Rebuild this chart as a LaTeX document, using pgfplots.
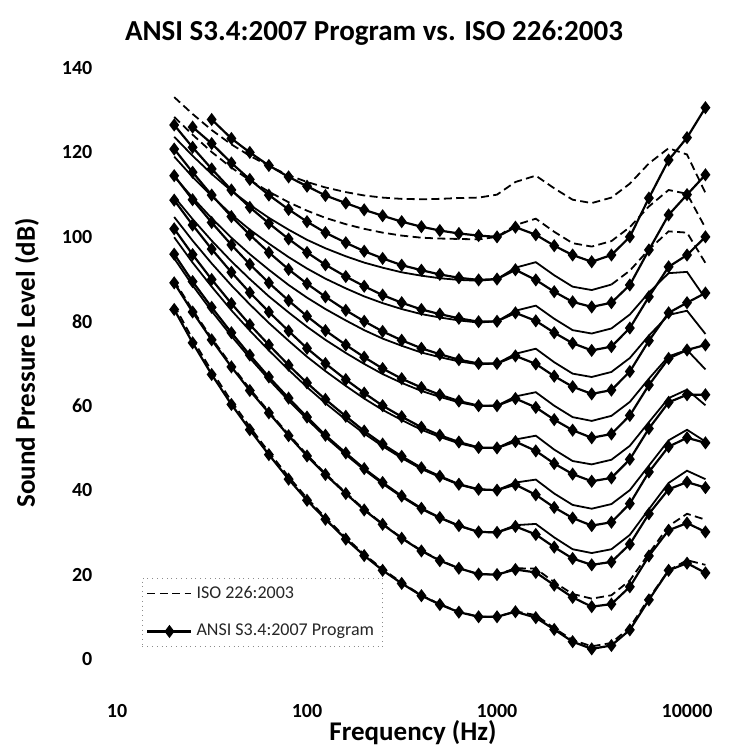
\documentclass[border=0pt]{standalone}
\usepackage{fontspec}
\setmainfont{Carlito}
\usepackage{pgfplots}
\usepackage{pgfplotstable}
\pgfplotsset{compat=1.18}

% ISO 226:2003 equal-loudness contours, 10 to 110 phon (dB SPL)
\pgfplotstableread{
f     i10  i20  i30  i40  i50   i60   i70   i80   i90   i100  i110
20    83.8 89.6 94.9 99.9 104.7 109.5 114.3 119.0 123.7 128.4 133.1
25    75.8 82.7 88.5 93.9 99.1  104.2 109.3 114.2 119.2 124.2 129.1
31.5  68.2 76.0 82.4 88.2 93.7  99.1  104.4 109.7 114.9 120.1 125.3
40    61.1 69.6 76.5 82.6 88.5  94.2  99.8  105.3 110.9 116.4 121.9
50    55.0 64.0 71.3 77.8 84.0  90.0  95.9  101.7 107.6 113.4 119.2
63    49.0 58.6 66.2 73.1 79.6  85.9  92.2  98.4  104.5 110.7 116.8
80    43.2 53.2 61.2 68.5 75.4  82.1  88.6  95.2  101.7 108.2 114.6
100   38.1 48.4 56.8 64.4 71.6  78.7  85.6  92.5  99.3  106.2 113.0
125   33.5 43.9 52.6 60.6 68.2  75.6  82.9  90.1  97.3  104.5 111.7
160   28.8 39.4 48.4 56.7 64.7  72.5  80.2  87.8  95.4  103.0 110.6
200   24.8 35.5 44.8 53.4 61.7  69.9  77.9  85.9  93.9  101.9 109.8
250   21.3 32.0 41.5 50.4 59.0  67.5  75.9  84.3  92.7  101.0 109.3
315   18.1 28.7 38.4 47.6 56.6  65.4  74.2  82.9  91.6  100.3 109.0
400   15.1 25.7 35.5 45.0 54.3  63.5  72.6  81.7  90.8  99.8  108.9
500   13.0 23.4 33.4 43.1 52.6  62.1  71.5  80.9  90.2  99.6  109.0
630   11.2 21.5 31.5 41.3 51.1  60.8  70.5  80.2  89.8  99.5  109.2
800   10.0 20.1 30.1 40.1 50.0  59.9  69.8  79.7  89.6  99.4  109.3
1000  10.0 20.0 30.0 40.0 50.0  60.0  70.0  80.0  90.0  100.0 110.0
1250  11.3 21.5 31.7 41.8 52.0  62.2  72.3  82.5  92.7  102.8 113.0
1600  10.4 21.4 32.0 42.5 52.9  63.2  73.5  83.7  94.0  104.3 114.5
2000  7.3  18.2 28.8 39.2 49.6  60.0  70.3  80.6  90.9  101.2 111.5
2500  4.5  15.4 26.0 36.5 46.9  57.3  67.6  77.9  88.2  98.5  108.8
3150  3.0  14.3 25.1 35.6 46.1  56.4  66.8  77.1  87.4  97.7  108.0
4000  3.8  15.1 26.0 36.7 47.2  57.6  68.0  78.3  88.7  99.0  109.3
5000  7.5  18.6 29.4 40.0 50.5  60.9  71.3  81.6  92.0  102.3 112.6
6300  14.4 25.0 35.5 45.8 56.1  66.4  76.6  86.8  97.0  107.2 117.4
8000  21.0 31.5 41.7 51.8 61.8  71.7  81.5  91.4  101.3 111.1 121.0
10000 23.4 34.4 44.6 54.3 63.8  73.2  82.5  91.7  101.0 110.2 119.5
12500 22.3 33.0 42.6 51.5 60.1  68.6  77.0  85.4  93.8  102.1 110.4
}\isotab

% Contours computed by the ANSI S3.4:2007 loudness program, 10 to 100 phon
\pgfplotstableread{
f     a10  a20  a30  a40   a50   a60   a70   a80   a90   a100
20    82.8 89.1 95.9 101.9 108.7 114.5 120.8 126.5 nan   nan
25    74.9 82.2 89.4 95.8  102.8 108.8 115.3 121.2 126.0 nan
31.5  67.4 75.6 83.3 89.9  97.1  103.4 109.9 116.1 122.1 127.8
40    60.3 69.2 77.3 84.2  91.6  98.1  104.8 111.1 117.5 123.3
50    54.3 63.6 72.0 79.2  86.8  93.5  100.5 107.0 113.6 120.0
63    48.4 58.3 66.8 74.4  82.2  89.1  96.3  103.2 109.9 116.9
80    42.6 52.9 61.8 69.6  77.7  84.9  92.3  99.5  106.5 114.2
100   37.6 48.1 57.3 65.4  73.6  81.2  88.9  96.3  103.6 112.0
125   33.1 43.7 53.0 61.5  70.0  77.8  85.8  93.4  101.0 109.8
160   28.4 39.2 48.8 57.5  66.2  74.4  82.6  90.6  98.6  108.0
200   24.5 35.3 45.1 54.0  63.0  71.5  80.0  88.3  96.6  106.4
250   21.0 31.9 41.8 50.9  60.0  68.8  77.6  86.2  94.9  105.0
315   17.9 28.6 38.6 48.0  57.4  66.4  75.5  84.4  93.3  103.6
400   15.0 25.6 35.7 45.3  54.9  64.3  73.6  82.8  92.1  102.4
500   12.9 23.3 33.5 43.3  53.0  62.6  72.2  81.7  91.1  101.5
630   11.1 21.5 31.6 41.4  51.4  61.1  70.9  80.7  90.3  100.8
800   10.0 20.1 30.1 40.2  50.1  60.0  70.0  79.9  89.8  100.3
1000  10.0 20.0 30.0 40.0  50.0  60.0  70.0  80.0  90.0  100.0
1250  11.2 21.2 31.4 41.3  51.5  61.7  71.8  82.0  92.2  102.3
1600  9.8  20.5 29.5 38.9  49.3  59.6  69.9  80.1  89.8  100.5
2000  7.0  17.5 26.5 35.9  46.3  56.7  67.0  77.3  87.0  97.9
2500  4.1  14.6 23.8 33.4  43.8  54.2  64.5  74.8  84.6  95.7
3150  2.4  12.4 22.3 31.6  42.1  52.4  62.8  73.1  83.4  94.1
4000  3.2  13.0 23.0 32.4  42.9  53.3  63.7  74.0  84.4  95.7
5000  6.9  17.1 27.2 36.8  47.3  57.7  68.1  78.4  88.6  100.0
6300  14.0 24.4 34.4 44.3  54.6  64.9  75.4  85.8  96.9  109.2
8000  21.0 30.5 40.2 50.3  60.8  71.2  82.0  92.9  105.2 118.2
10000 22.7 32.2 41.9 52.4  62.6  73.2  84.4  95.7  110.0 123.5
12500 20.4 30.1 40.6 51.2  62.6  74.4  86.7  100.0 114.7 130.6
}\ansitab

\pgfplotsset{
  isodash/.style={black, line width=0.9pt, dash pattern=on 4pt off 2.2pt},
  isosolid/.style={black, line width=0.9pt},
  ansi/.style={black, line width=1.1pt, mark=diamond*, mark size=2.4pt,
               mark options={solid}},
}

\begin{document}
\begin{tikzpicture}
\useasboundingbox (-58.5pt,-43pt) rectangle (309pt,329.5pt);
\begin{axis}[
  at={(0,0)}, anchor=south west, scale only axis,
  width=304.4pt, height=295.5pt,
  xmode=log, xmin=10, xmax=16000,
  ymin=0, ymax=140,
  clip=false,
  axis line style={draw=none},
  tick style={draw=none},
  xtick={10,100,1000,10000},
  xticklabels={10,100,1000,10000},
  ytick={0,20,...,140},
  /pgf/number format/assume math mode=true,
  ticklabel style={font=\bfseries\fontsize{10}{12}\selectfont},
  yticklabel style={xshift=-8.8pt},
  xticklabel style={yshift=-19pt},
  legend style={at={(0.041,0.02)}, anchor=south west,
    draw=black!45, line width=0.4pt, dotted,
    font=\fontsize{9}{10.5}\selectfont, text=black!85,
    row sep=7.5pt, inner xsep=2pt, inner ysep=2pt,
    /tikz/every even column/.append style={column sep=2pt}},
  legend cell align=left,
  legend image code/.code={\draw[mark repeat=2,mark phase=2,#1]
     plot coordinates {(0pt,0pt) (11pt,0pt) (22pt,0pt)};},
]
\addlegendimage{isodash}
\addlegendentry{ISO 226:2003}
\addlegendimage{ansi}
\addlegendentry{ANSI S3.4:2007 Program}

% ISO 226:2003 contours (the 90-phon curve turns dashed above 4 kHz)
\addplot[isodash, forget plot] table[x=f, y=i110] {\isotab};
\addplot[isodash, forget plot] table[x=f, y=i100] {\isotab};
\addplot[isosolid, forget plot, restrict x to domain=0:8.3] table[x=f, y=i90] {\isotab};
\addplot[isodash, forget plot, restrict x to domain=8.29:10] table[x=f, y=i90] {\isotab};
\addplot[isosolid, forget plot] table[x=f, y=i80] {\isotab};
\addplot[isosolid, forget plot] table[x=f, y=i70] {\isotab};
\addplot[isosolid, forget plot] table[x=f, y=i60] {\isotab};
\addplot[isosolid, forget plot] table[x=f, y=i50] {\isotab};
\addplot[isosolid, forget plot] table[x=f, y=i40] {\isotab};
\addplot[isosolid, forget plot] table[x=f, y=i30] {\isotab};
\addplot[isodash, forget plot] table[x=f, y=i20] {\isotab};
\addplot[isodash, forget plot] table[x=f, y=i10] {\isotab};

% ANSI S3.4:2007 program contours
\foreach \c in {a10,a20,a30,a40,a50,a60,a70,a80,a90,a100}{
  \addplot[ansi, forget plot] table[x=f, y=\c] {\ansitab};
}
\end{axis}

\node[font=\bfseries\fontsize{14.5}{17}\selectfont] at (128.5pt,313pt)
  {ANSI S3.4:2007 Program vs. ISO 226:2003};
\node[font=\bfseries\fontsize{13.5}{16}\selectfont] at (148pt,-37pt)
  {Frequency (Hz)};
\node[font=\bfseries\fontsize{13.5}{16}\selectfont, rotate=90] at (-45pt,148pt)
  {Sound Pressure Level (dB)};
\end{tikzpicture}
\end{document}
